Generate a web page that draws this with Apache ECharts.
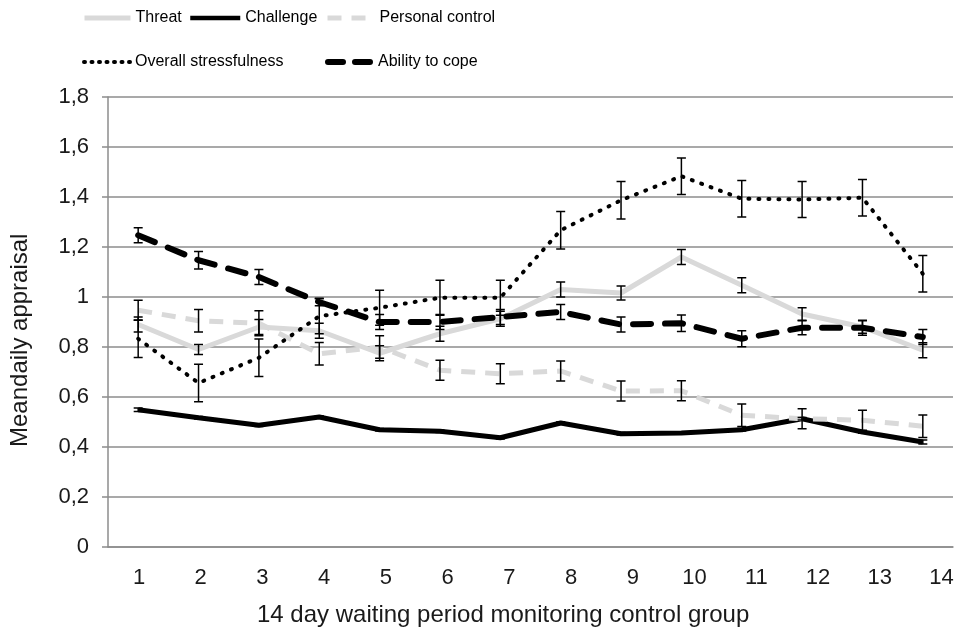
<!DOCTYPE html>
<html>
<head>
    <meta charset="utf-8"/>
    <title>Meandaily appraisal</title>
    <script type="text/javascript" src="https://cdn.jsdelivr.net/npm/echarts@6/dist/echarts.min.js"></script>
</head>
<body style="margin:0;background:#fff">
<div id="main" style="width:963px;height:634px;"></div>

<script type="text/javascript">
    var days = ['1', '2', '3', '4', '5', '6', '7', '8', '9', '10', '11', '12', '13', '14'];

    var threat = [0.89, 0.79, 0.88, 0.865, 0.775, 0.853, 0.913, 1.03, 1.016, 1.16, 1.047, 0.932, 0.88, 0.787];
    var threatErr = [0.03, 0.02, 0.03, 0.03, 0.03, 0.03, 0.03, 0.03, 0.028, 0.03, 0.03, 0.025, 0.025, 0.03];

    var challenge = [0.549, 0.517, 0.487, 0.52, 0.469, 0.463, 0.437, 0.496, 0.453, 0.456, 0.469, 0.513, 0.46, 0.42];
    var challengeErr = [0.007, 0.005, 0.005, 0.005, 0.005, 0.005, 0.005, 0.005, 0.005, 0.005, 0.005, 0.005, 0.005, 0.008];

    var personal = [0.947, 0.905, 0.895, 0.773, 0.8, 0.707, 0.693, 0.704, 0.624, 0.625, 0.527, 0.513, 0.507, 0.483];
    var personalErr = [0.04, 0.045, 0.05, 0.045, 0.045, 0.04, 0.04, 0.04, 0.04, 0.04, 0.045, 0.04, 0.04, 0.045];

    var overall = [0.833, 0.656, 0.757, 0.923, 0.957, 0.997, 0.997, 1.267, 1.387, 1.483, 1.393, 1.39, 1.397, 1.093];
    var overallErr = [0.075, 0.075, 0.075, 0.07, 0.07, 0.07, 0.07, 0.075, 0.075, 0.073, 0.073, 0.072, 0.073, 0.073];

    var ability = [1.247, 1.147, 1.08, 0.98, 0.9, 0.9, 0.92, 0.94, 0.89, 0.895, 0.833, 0.877, 0.877, 0.84];
    var abilityErr = [0.03, 0.035, 0.03, 0.015, 0.03, 0.03, 0.03, 0.03, 0.03, 0.033, 0.032, 0.028, 0.03, 0.03];

    var yTicks = [0, 1.8, 0.2];   // min, max, step
    var xTicks = [1, 14, 1];

    var font = "'Liberation Sans', Arial, sans-serif";
    var light = '#d9d9d9';

    var myChart = echarts.init(document.getElementById('main'));

    // low / high pairs for the custom error bar series
    function bars(vals, errs) {
        var out = [];
        for (var i = 0; i < vals.length; i++) {
            out.push([i, vals[i] - errs[i], vals[i] + errs[i]]);
        }
        return out;
    }

    function drawBar(params, api) {
        var lo = api.coord([api.value(0), api.value(1)]);
        var hi = api.coord([api.value(0), api.value(2)]);
        var w = 4.5;
        var st = {stroke: '#000', lineWidth: 1.5};
        return {
            type: 'group',
            children: [
                {type: 'line', shape: {x1: lo[0], y1: lo[1], x2: hi[0], y2: hi[1]}, style: st},
                {type: 'line', shape: {x1: lo[0] - w, y1: lo[1], x2: lo[0] + w, y2: lo[1]}, style: st},
                {type: 'line', shape: {x1: hi[0] - w, y1: hi[1], x2: hi[0] + w, y2: hi[1]}, style: st}
            ]
        };
    }

    function errSeries(vals, errs) {
        return {
            type: 'custom',
            xAxisIndex: 0,
            yAxisIndex: 0,
            renderItem: drawBar,
            data: bars(vals, errs),
            encode: {x: 0, y: [1, 2]},
            z: 10,
            silent: true
        };
    }

    var legendText = {fontFamily: font, fontSize: 16, color: '#000'};
    var noDot = {color: 'rgba(0,0,0,0)', borderColor: 'rgba(0,0,0,0)', borderWidth: 0};

    function leg(name, left, top, w, ls) {
        return {
            data: [name], left: left, top: top, padding: 0,
            itemWidth: w, itemHeight: 14, itemGap: 0,
            itemStyle: noDot, lineStyle: ls, textStyle: legendText
        };
    }

    var option = {
        backgroundColor: '#fff',
        animation: false,
        legend: [
            leg('Threat', 82, 10, 46, {color: light, width: 5, type: 'solid'}),
            leg('Challenge', 188, 10, 50, {color: '#000', width: 4.5, type: 'solid'}),
            leg('Personal control', 325, 10, 47, {color: light, width: 5, type: [14, 10]}),
            leg('Overall stressfulness', 82, 54, 46, {color: '#000', width: 4, type: [1, 6.5], cap: 'round'}),
            leg('Ability to cope', 325, 54, 45, {color: '#000', width: 6, type: [15, 12], cap: 'round'})
        ],
        grid: [
            {left: 108, top: 97, width: 845, height: 450},
            {left: 139, top: 97, width: 802.5, height: 450}
        ],
        xAxis: [
            {
                type: 'category',
                gridIndex: 0,
                data: days,
                boundaryGap: true,
                axisLine: {lineStyle: {color: '#8c8c8c', width: 1.5}},
                axisTick: {show: false},
                axisLabel: {show: false}
            },
            {
                type: 'value',
                gridIndex: 1,
                min: xTicks[0],
                max: xTicks[1],
                interval: xTicks[2],
                axisLine: {show: false},
                axisTick: {show: false},
                splitLine: {show: false},
                axisLabel: {
                    margin: 20,
                    showMinLabel: true,
                    showMaxLabel: true,
                    fontFamily: font,
                    fontSize: 22,
                    color: '#1a1a1a'
                }
            }
        ],
        yAxis: [
            {
                type: 'value',
                gridIndex: 0,
                min: yTicks[0],
                max: yTicks[1],
                interval: yTicks[2],
                axisLine: {show: true, lineStyle: {color: '#8c8c8c', width: 1.5}},
                axisTick: {show: true, inside: false, length: 6, lineStyle: {color: '#8c8c8c', width: 1.5}},
                splitLine: {lineStyle: {color: '#8c8c8c', width: 1.5}},
                axisLabel: {
                    margin: 19,
                    fontFamily: font,
                    fontSize: 22,
                    color: '#1a1a1a',
                    formatter: function (v) {
                        return String(+v.toFixed(1)).replace('.', ',');
                    }
                }
            },
            {type: 'value', gridIndex: 1, show: false, min: 0, max: 1}
        ],
        graphic: [
            {
                type: 'text',
                left: 257,
                top: 603,
                style: {text: '14 day waiting period monitoring control group', font: '24px ' + font, fill: '#1a1a1a'}
            },
            {
                type: 'text',
                x: 20,
                y: 447,
                rotation: Math.PI / 2,
                style: {
                    text: 'Meandaily appraisal', font: '24px ' + font, fill: '#1a1a1a',
                    align: 'left', verticalAlign: 'middle'
                }
            }
        ],
        series: [
            {
                name: 'Threat', type: 'line', data: threat, symbol: 'none',
                lineStyle: {color: light, width: 5},
                itemStyle: {color: light}, z: 3
            },
            {
                name: 'Challenge', type: 'line', data: challenge, symbol: 'none',
                lineStyle: {color: '#000', width: 5},
                itemStyle: {color: '#000'}, z: 3
            },
            {
                name: 'Personal control', type: 'line', data: personal, symbol: 'none',
                lineStyle: {color: light, width: 5, type: [14, 10]},
                itemStyle: {color: light}, z: 3
            },
            {
                name: 'Overall stressfulness', type: 'line', data: overall, symbol: 'none',
                lineStyle: {color: '#000', width: 4, type: [1, 9], cap: 'round'},
                itemStyle: {color: '#000'}, z: 4
            },
            {
                name: 'Ability to cope', type: 'line', data: ability, symbol: 'none',
                lineStyle: {color: '#000', width: 6, type: [18, 14], cap: 'round'},
                itemStyle: {color: '#000'}, z: 4
            },
            errSeries(threat, threatErr),
            errSeries(challenge, challengeErr),
            errSeries(personal, personalErr),
            errSeries(overall, overallErr),
            errSeries(ability, abilityErr)
        ]
    };

    myChart.setOption(option);
</script>
</body>
</html>
